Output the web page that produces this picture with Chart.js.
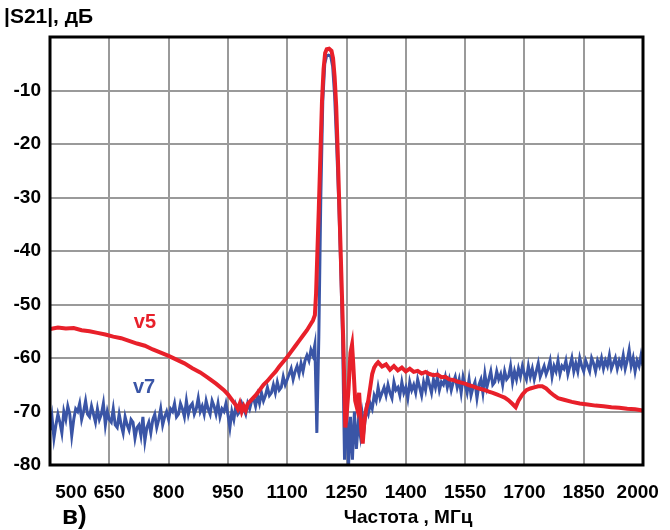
<!DOCTYPE html>
<html>
<head>
<meta charset="utf-8">
<script src="https://cdn.jsdelivr.net/npm/chart.js@4.4.1/dist/chart.umd.min.js"></script>
<style>
html,body{margin:0;padding:0;background:#fff;}
canvas{display:block;}
</style>
</head>
<body>
<canvas id="c" width="670" height="530"></canvas>
<script>
// ---- Data ----
const xTicks = [500, 650, 800, 950, 1100, 1250, 1400, 1550, 1700, 1850, 2000];
const yTicks = [-80, -70, -60, -50, -40, -30, -20, -10, 0];
const titleY = '|S21|, дБ';
const titleX = 'Частота , МГц';
const panelLabel = 'в)';
const seriesNames = ['v5', 'v7'];

// v5 (red): frequency (MHz) and |S21| (dB)
const v5Freq = [500,520,540,560,580,600,620,640,660,680,700,720,740,760,780,800,820,840,860,880,900,920,940,950,960,970,975,980,985,990,995,1000,
  1010,1020,1030,1040,1050,1060,1070,1080,1090,1100,1110,1120,1130,1140,1150,1160,1165,1170,1173,1176,1180,1184,1188,1192,1196,1200,1206,1212,1216,
  1220,1224,1228,1232,1236,1240,1243,1245,1247,1250,1255,1260,1264,1267,1272,1277,1282,1287,1291,1295,1300,1305,1310,1315,1320,1325,1330,
  1340,1350,1360,1370,1380,1390,1400,1410,1420,1430,1440,1450,1460,1470,1480,1490,1500,1510,1520,1530,1540,1550,1560,1570,1580,1590,1600,
  1610,1620,1630,1640,1650,1660,1670,1678,1685,1695,1705,1715,1725,1735,1745,1755,1765,1775,1785,1800,1820,1840,1860,1880,1900,1920,1940,1960,1980,2000];
const v5Db = [-54.6,-54.3,-54.5,-54.4,-54.8,-55.0,-55.3,-55.6,-56.0,-56.3,-56.8,-57.3,-57.7,-58.4,-59.0,-59.6,-60.3,-61.0,-61.9,-62.7,-63.7,-64.8,-66.0,-66.8,-67.8,-68.8,-69.5,-68.5,-70.0,-69.0,-69.8,-68.6,
  -67.8,-67.0,-66.0,-65.0,-64.3,-63.4,-62.6,-61.6,-60.7,-59.8,-58.8,-57.8,-56.8,-55.8,-54.8,-53.6,-53.0,-52.0,-48.0,-41.0,-32.0,-22.0,-12.0,-6.0,-3.0,-2.3,-2.2,-2.6,-4.0,
  -7.5,-13.0,-22.0,-32.0,-42.0,-52.0,-60.0,-67.0,-73.0,-71.0,-66.0,-59.0,-57.5,-61.0,-68.0,-69.5,-66.5,-73.0,-76.0,-72.0,-69.5,-68.0,-65.5,-63.0,-61.8,-61.2,-60.8,
  -61.6,-61.2,-62.2,-61.5,-62.3,-61.8,-62.5,-62.0,-62.6,-62.4,-62.9,-62.6,-63.0,-63.2,-63.1,-63.6,-63.5,-64.0,-64.1,-64.4,-64.6,-64.8,-65.1,-65.3,-65.6,-65.8,-66.0,
  -66.3,-66.5,-66.8,-67.1,-67.4,-67.9,-68.6,-69.2,-68.0,-66.8,-66.0,-65.7,-65.5,-65.3,-65.3,-65.7,-66.4,-67.0,-67.5,-67.8,-68.2,-68.5,-68.7,-68.9,-69.0,-69.2,-69.3,-69.5,-69.6,-69.8];

// v7 (blue): sampled every 5 MHz from 500 to 2000 MHz (one row = 50 MHz)
const v7Start = 500, v7Step = 5;
const v7Db = [
  /*500*/ -73.5,-71.0,-75.0,-72.5,-70.5,-72.0,-74.0,-70.0,-71.5,-69.0,
  /*550*/ -70.5,-74.5,-71.5,-69.5,-70.0,-68.5,-71.5,-70.0,-68.0,-70.5,
  /*600*/ -71.0,-69.0,-70.5,-72.0,-69.5,-71.5,-70.5,-68.5,-72.5,-70.0,
  /*650*/ -71.5,-72.0,-69.5,-72.5,-73.0,-70.5,-72.5,-74.0,-71.0,-72.5,
  /*700*/ -73.5,-71.5,-72.0,-75.0,-73.0,-72.5,-74.5,-71.0,-75.5,-73.0,
  /*750*/ -72.0,-74.0,-71.5,-70.5,-73.0,-71.5,-69.5,-72.5,-71.0,-70.0,
  /*800*/ -71.5,-69.5,-70.0,-68.5,-71.0,-70.5,-68.5,-69.5,-71.0,-68.0,
  /*850*/ -70.5,-69.0,-68.5,-70.5,-69.5,-67.5,-70.0,-69.0,-70.5,-68.0,
  /*900*/ -69.5,-70.5,-68.0,-69.0,-70.5,-68.5,-71.0,-69.5,-70.0,-68.5,
  /*950*/ -70.5,-73.0,-70.0,-71.5,-69.0,-70.5,-70.0,-68.5,-69.5,-70.5,
  /*1000*/ -68.5,-69.5,-68.0,-67.5,-69.0,-67.0,-68.5,-66.5,-68.0,-67.0,
  /*1050*/ -65.5,-67.0,-66.5,-65.0,-66.5,-64.5,-66.0,-65.5,-63.5,-65.0,
  /*1100*/ -64.0,-63.0,-62.0,-64.0,-62.5,-61.5,-63.0,-61.0,-62.5,-60.5,
  /*1150*/ -59.5,-60.5,-58.5,-59.5,-57.5,-74.0,-56.0,-30.0,-12.0,-5.0,
  /*1200*/ -3.5,-3.4,-3.6,-5.5,-11.0,-20.0,-30.0,-42.0,-56.0,-79.0,
  /*1250*/ -67.5,-80.5,-71.0,-79.0,-70.0,-77.0,-72.0,-74.5,-70.5,-73.0,
  /*1300*/ -69.5,-70.5,-68.5,-69.5,-67.0,-68.0,-65.5,-67.5,-66.5,-65.5,
  /*1350*/ -67.0,-65.0,-66.5,-67.5,-64.5,-66.0,-65.5,-67.0,-64.5,-66.5,
  /*1400*/ -65.5,-67.5,-64.5,-66.0,-65.0,-66.5,-64.0,-65.5,-67.0,-64.5,
  /*1450*/ -66.0,-63.5,-65.0,-66.5,-64.0,-65.5,-63.5,-66.0,-64.5,-65.0,
  /*1500*/ -63.5,-65.5,-64.0,-66.0,-64.5,-63.5,-65.5,-64.0,-66.5,-63.5,
  /*1550*/ -65.0,-66.5,-64.0,-67.0,-65.5,-64.5,-67.5,-65.0,-64.0,-66.5,
  /*1600*/ -63.0,-65.5,-64.0,-62.5,-65.0,-64.5,-62.5,-64.0,-63.0,-65.0,
  /*1650*/ -62.5,-64.0,-63.5,-61.5,-64.5,-62.5,-64.0,-62.0,-63.5,-61.5,
  /*1700*/ -63.0,-64.0,-61.5,-63.5,-62.0,-64.0,-62.5,-61.0,-63.5,-62.5,
  /*1750*/ -61.5,-63.0,-62.0,-60.5,-63.5,-61.5,-62.5,-60.5,-63.0,-61.5,
  /*1800*/ -62.0,-60.5,-63.0,-61.5,-60.0,-62.5,-61.0,-62.5,-60.0,-61.5,
  /*1850*/ -62.5,-60.5,-61.5,-62.5,-60.0,-61.0,-62.5,-60.5,-61.5,-60.0,
  /*1900*/ -62.0,-60.5,-61.5,-59.5,-62.0,-61.0,-60.0,-62.0,-60.5,-61.5,
  /*1950*/ -59.5,-62.0,-60.5,-58.5,-61.5,-60.0,-62.5,-60.5,-61.5,-59.5,
  /*2000*/ -61.5
];

// label anchor positions in data units
const v5LabelAt = {x: 740, y: -53.3};
const v7LabelAt = {x: 738, y: -65.6};

// ---- Build ----
const v5Points = v5Freq.map((f, i) => ({x: f, y: v5Db[i]}));
const v7Points = v7Db.map((v, i) => ({x: v7Start + i * v7Step, y: v}));

const RED = '#e8202a';
const BLUE = '#3a55a6';
const FONT = '"Liberation Sans", Arial, sans-serif';

const decor = {
  id: 'decor',
  afterDatasetsDraw(chart) {
    const {ctx, chartArea: a, scales} = chart;
    ctx.save();
    // frame
    ctx.strokeStyle = '#000';
    ctx.lineWidth = 3;
    ctx.strokeRect(a.left, a.top, a.right - a.left, a.bottom - a.top);
    // series labels
    ctx.font = 'bold 20px ' + FONT;
    ctx.textAlign = 'center';
    ctx.textBaseline = 'middle';
    ctx.fillStyle = RED;
    ctx.fillText(seriesNames[0], scales.x.getPixelForValue(v5LabelAt.x), scales.y.getPixelForValue(v5LabelAt.y));
    ctx.fillStyle = BLUE;
    ctx.fillText(seriesNames[1], scales.x.getPixelForValue(v7LabelAt.x), scales.y.getPixelForValue(v7LabelAt.y));
    // titles
    ctx.fillStyle = '#000';
    ctx.font = 'bold 21px ' + FONT;
    ctx.textAlign = 'left';
    ctx.fillText(titleY, 4, 17);
    ctx.font = 'bold 19px ' + FONT;
    ctx.textAlign = 'center';
    ctx.fillText(titleX, 408, 518);
    ctx.font = 'bold 26px ' + FONT;
    ctx.textAlign = 'left';
    ctx.fillText(panelLabel, 62, 517);
    ctx.restore();
  }
};

// first/last x labels sit inside the frame as in the original
const xLabel = v => {
  if (v === xTicks[0]) return '        ' + v;
  if (v === xTicks[xTicks.length - 1]) return v + '  ';
  return String(v);
};

new Chart(document.getElementById('c'), {
  type: 'line',
  data: {
    datasets: [
      {label: seriesNames[0], data: v5Points, borderColor: RED, borderWidth: 4, pointRadius: 0, tension: 0},
      {label: seriesNames[1], data: v7Points, borderColor: BLUE, borderWidth: 3, pointRadius: 0, tension: 0}
    ]
  },
  options: {
    responsive: false,
    animation: false,
    devicePixelRatio: 1,
    layout: {padding: {top: 37, right: 27, bottom: 0, left: 0}},
    plugins: {legend: {display: false}, tooltip: {enabled: false}},
    scales: {
      x: {
        type: 'linear',
        min: xTicks[0], max: xTicks[xTicks.length - 1],
        afterBuildTicks: s => { s.ticks = xTicks.map(v => ({value: v})); },
        afterFit: s => { s.height = 65; s.paddingLeft = 0; s.paddingRight = 0; },
        grid: {color: '#9a9a9a', lineWidth: 2, drawTicks: false},
        border: {display: false},
        ticks: {padding: 16, color: '#000', font: {family: FONT, size: 19, weight: 'bold'}, maxRotation: 0, autoSkip: false,
          callback: xLabel}
      },
      y: {
        type: 'linear',
        min: yTicks[0], max: yTicks[yTicks.length - 1],
        afterBuildTicks: s => { s.ticks = yTicks.map(v => ({value: v})); },
        afterFit: s => { s.width = 50; s.paddingTop = 0; s.paddingBottom = 0; },
        grid: {color: '#9a9a9a', lineWidth: 2, drawTicks: false},
        border: {display: false},
        ticks: {padding: 9, color: '#000', font: {family: FONT, size: 19, weight: 'bold'},
          callback: v => (v === 0 ? '' : String(v))}
      }
    }
  },
  plugins: [decor]
});
</script>
</body>
</html>
